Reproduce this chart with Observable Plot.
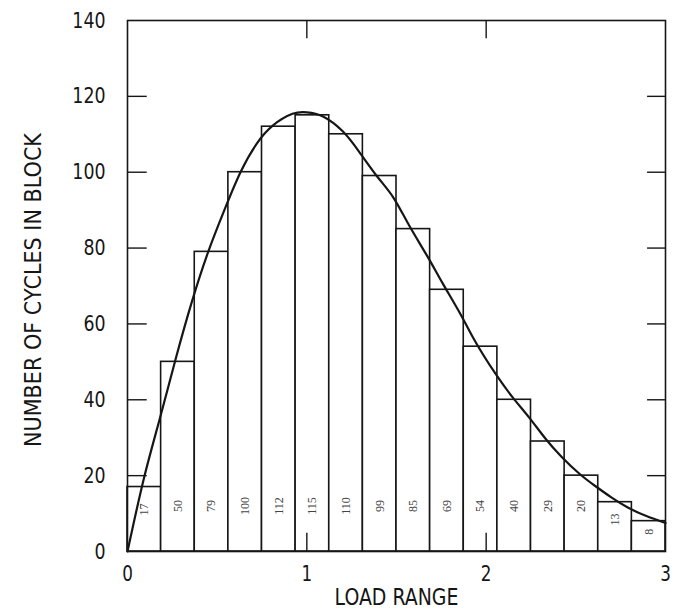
<!DOCTYPE html>
<html>
<head>
<meta charset="utf-8">
<script src="https://cdn.jsdelivr.net/npm/d3@7"></script>
<script src="https://cdn.jsdelivr.net/npm/@observablehq/plot@0.6"></script>
<style>
  html, body { margin: 0; padding: 0; background: #fff; }
  #chart { width: 677px; height: 616px; }
</style>
</head>
<body>
<div id="chart"></div>
<script>
// Histogram bins (load range edges) and counts
const binStart = [0, 0.1875, 0.375, 0.5625, 0.75, 0.9375, 1.125, 1.3125, 1.5, 1.6875, 1.875, 2.0625, 2.25, 2.4375, 2.625, 2.8125];
const binEnd   = [0.1875, 0.375, 0.5625, 0.75, 0.9375, 1.125, 1.3125, 1.5, 1.6875, 1.875, 2.0625, 2.25, 2.4375, 2.625, 2.8125, 3];
const counts   = [17, 50, 79, 100, 112, 115, 110, 99, 85, 69, 54, 40, 29, 20, 13, 8];

// Fitted curve
const curveX = [0, 0.09, 0.18, 0.27, 0.36, 0.45, 0.54, 0.63, 0.72, 0.81, 0.92, 1.00, 1.09, 1.20, 1.29, 1.39, 1.48, 1.57, 1.67, 1.76, 1.86, 1.94, 2.05, 2.15, 2.24, 2.33, 2.42, 2.52, 2.61, 2.70, 2.79, 2.89, 3.00];
const curveY = [0, 19, 35, 51, 66, 79, 90, 100, 107.5, 112.3, 115.4, 115.8, 114.7, 110.8, 105.5, 99, 93.5, 86, 78, 70.5, 62.3, 55.3, 47, 40.5, 35.3, 29.8, 25, 20.5, 17.2, 14.2, 11.6, 9.4, 7.5];

// Axis ticks and labels
const xTicks = [0, 1, 2, 3];
const xInnerTicks = [1, 2];
const yTicks = [0, 20, 40, 60, 80, 100, 120, 140];
const yInnerTicks = [20, 40, 60, 80, 100, 120];
const xLabel = "LOAD RANGE";
const yLabel = "NUMBER OF CYCLES IN BLOCK";

const bins = counts.map((c, i) => ({x1: binStart[i], x2: binEnd[i], count: c}));
const curve = curveX.map((x, i) => ({x, y: curveY[i]}));

const axisFont = "'DejaVu Sans','Liberation Sans',sans-serif";
const ink = "#161616";

const chart = Plot.plot({
  width: 677,
  height: 616,
  marginLeft: 127,
  marginRight: 12,
  marginTop: 20,
  marginBottom: 65,
  x: {domain: [0, 3]},
  y: {domain: [0, 140]},
  style: {background: "#fff", color: ink, fontFamily: axisFont},
  marks: [
    Plot.rectY(bins, {x1: "x1", x2: "x2", y1: 0, y2: "count", fill: "#fff", stroke: ink, strokeWidth: 1.6}),
    Plot.text(bins, {
      x: d => (d.x1 + d.x2) / 2, y: d => Math.min(12, d.count * 0.65), text: d => String(d.count),
      rotate: -90, fontFamily: "'Liberation Serif','DejaVu Serif',serif", fontSize: 12, fill: "#444"
    }),
    Plot.line(curve, {x: "x", y: "y", curve: "natural", stroke: ink, strokeWidth: 2.2}),
    Plot.frame({stroke: ink, strokeWidth: 1.6}),
    Plot.ruleY(yInnerTicks, {x1: 0, x2: 0.11, stroke: ink, strokeWidth: 1.4}),
    Plot.ruleY(yInnerTicks, {x1: 2.9, x2: 3, stroke: ink, strokeWidth: 1.4}),
    Plot.ruleX(xInnerTicks, {y1: 0, y2: 4.8, stroke: ink, strokeWidth: 1.4}),
    Plot.ruleX(xInnerTicks, {y1: 135.2, y2: 140, stroke: ink, strokeWidth: 1.4}),
    Plot.axisY({ticks: yTicks, tickFormat: d => String(d), tickSize: 0, tickPadding: 22, label: null, fontSize: 22, fontFamily: axisFont}),
    Plot.axisX({ticks: xTicks, tickFormat: d => String(d), tickSize: 0, tickPadding: 15, label: null, fontSize: 21, fontFamily: axisFont}),
    Plot.text([yLabel], {frameAnchor: "left", textAnchor: "middle", rotate: -90, dx: -93.5, dy: 4, text: d => d, fontSize: 23, fontFamily: axisFont, fill: ink}),
    Plot.text([xLabel], {frameAnchor: "bottom", textAnchor: "middle", dy: 53, text: d => d, fontSize: 23, fontFamily: axisFont, fill: ink})
  ]
});
document.getElementById("chart").appendChild(chart);

// Narrow the lettering like the reference's plotter font
function squeeze(t, sx) {
  const tr = t.getAttribute("transform");
  if (tr && isFinite(sx) && sx > 0) t.setAttribute("transform", tr + ` scale(${sx.toFixed(3)},1)`);
}
chart.querySelectorAll("g[aria-label='y-axis tick label'] text").forEach(t => squeeze(t, 0.79));
chart.querySelectorAll("g[aria-label='x-axis tick label'] text").forEach(t => squeeze(t, 0.8));
chart.querySelectorAll("text").forEach(t => {
  const s = t.textContent;
  if (s === yLabel) squeeze(t, 314 / t.getComputedTextLength());
  else if (s === xLabel) squeeze(t, 124 / t.getComputedTextLength());
});
</script>
</body>
</html>
